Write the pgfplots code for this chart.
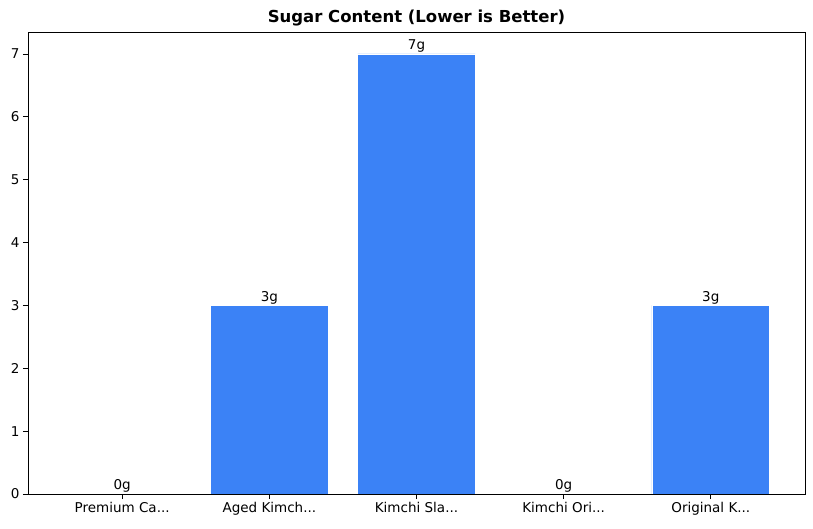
\documentclass[border=0pt]{standalone}
\usepackage{pgfplots}
\pgfplotsset{compat=1.18}
\usepackage{fontspec}
\setmainfont{DejaVu Sans}
\definecolor{barblue}{HTML}{3B82F6}
\newcommand{\dd}{...}
\begin{document}
\begin{tikzpicture}
\begin{axis}[
  scale only axis,
  width=777pt, height=462pt,
  axis on top,
  ybar, bar width=0.8,
  xmin=-0.64, xmax=4.64,
  ymin=0, ymax=7.35,
  xtick=data,
  xticklabels={Premium Ca\dd,Aged Kimch\dd,Kimchi Sla\dd,Kimchi Ori\dd,Original K\dd},
  ytick={0,1,2,3,4,5,6,7},
  tick align=outside,
  xtick pos=bottom, ytick pos=left,
  major tick length=5pt,
  tick style={black, line width=0.9pt},
  axis line style={line width=0.9pt},
  ticklabel style={font=\fontsize{13.5}{16}\selectfont},
  /pgf/number format/assume math mode=true,
  title={\bfseries Sugar Content (Lower is Better)},
  title style={font=\fontsize{16.5}{19}\selectfont, at={(0.5,1)}, anchor=south, yshift=-4pt},
  nodes near coords={\pgfmathprintnumber{\pgfplotspointmeta}g},
  nodes near coords style={font=\fontsize{13.5}{16}\selectfont, black, inner sep=0pt, anchor=south, yshift=1pt},
]
\addplot[fill=barblue, draw=white, line width=0.8pt] coordinates {(0,0) (1,3) (2,7) (3,0) (4,3)};
\end{axis}
\path (current axis.south west) ++(-28pt,-34pt);
\path (current axis.north east) ++(8pt,32pt);
\end{tikzpicture}
\end{document}
